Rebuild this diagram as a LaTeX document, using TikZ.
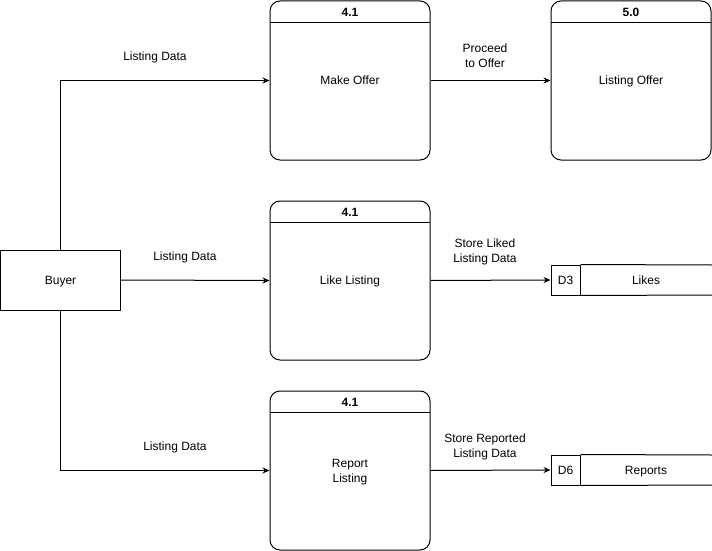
\documentclass[tikz,border=0pt]{standalone}
\usepackage{fontspec}
\setmainfont{Liberation Sans}
\usetikzlibrary{positioning, arrows.meta}

\begin{document}
\begin{tikzpicture}[x=1pt, y=-1pt, line width=1pt,
    font=\fontsize{12}{15}\selectfont,
    every node/.style={text depth=0pt},
    proc/.style={draw, rounded corners=10pt, minimum width=160pt, minimum height=159pt, inner sep=0pt},
    head/.style={font=\fontsize{12}{15}\selectfont\bfseries},
    ext/.style={draw, minimum width=120pt, minimum height=60pt, inner sep=0pt},
    store/.style={draw, minimum width=29pt, minimum height=30pt, inner sep=0pt},
    lbl/.style={align=center},
    arr/.style={-{Stealth[length=7pt, width=6pt]}}]
        \useasboundingbox (0,0) rectangle (712,551);

        \node[ext] (buyer) at (60.5,280) {Buyer};

        \node[proc] (mo) at (350,80.5) {Make Offer};
        \node[proc] (lo) at (631,80.5) {Listing Offer};
        \node[proc] (ll) at (350,280.5) {Like Listing};
        \node[proc, align=center] (rl) at (350,470.5) {Report\\Listing};

        % header bars
        \draw (mo.north west) ++(0,22) -- ++(160,0);
        \draw (lo.north west) ++(0,22) -- ++(160,0);
        \draw (ll.north west) ++(0,22) -- ++(160,0);
        \draw (rl.north west) ++(0,22) -- ++(160,0);
        \node[head] (mon) at (350,12) {4.1};
        \node[head] (lon) at (631,12) {5.0};
        \node[head] (lln) at (350,212) {4.1};
        \node[head] (rln) at (350,402) {4.1};

        % data stores
        \node[store] (d3) at (565.5,280) {D3};
        \node (likes) at (646,280) {Likes};
        \draw (d3.north east) -- (712,265);
        \draw (d3.south east) -- (712,295);
        \node[store] (d6) at (565.5,470) {D6};
        \node (reports) at (646,470) {Reports};
        \draw (d6.north east) -- (712,455);
        \draw (d6.south east) -- (712,485);

        \draw[arr] (buyer.north) |- (mo.west);
        \draw[arr] (buyer.east) -- (ll.west);
        \draw[arr] (buyer.south) |- (rl.west);
        \draw[arr] (mo.east) -- (lo.west);
        \draw[arr] (ll.east) -- (d3.west);
        \draw[arr] (rl.east) -- (d6.west);

        \node[lbl] (l1) at (155,56.5) {Listing Data};
        \node[lbl] (l2) at (185,256.5) {Listing Data};
        \node[lbl] (l3) at (175,446.5) {Listing Data};
        \node[lbl] (l4) at (485,56) {Proceed\\to Offer};
        \node[lbl] (l5) at (485,251) {Store Liked\\Listing Data};
        \node[lbl] (l6) at (485,446) {Store Reported\\Listing Data};
    \end{tikzpicture}
\end{document}
